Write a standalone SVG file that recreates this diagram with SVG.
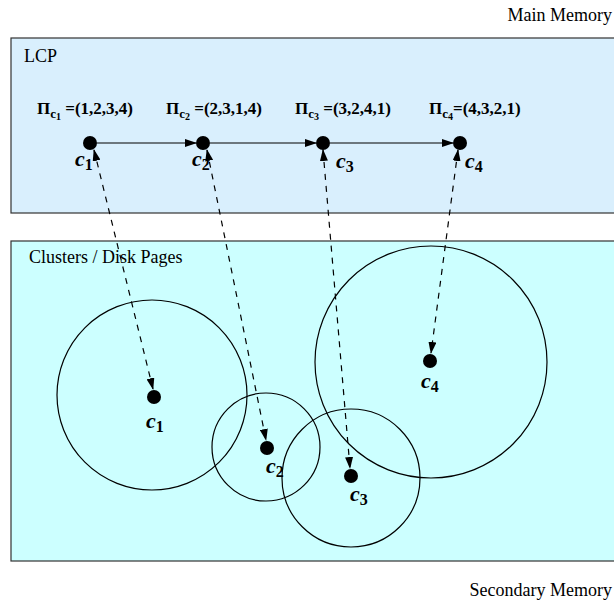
<svg xmlns="http://www.w3.org/2000/svg" width="614" height="604" viewBox="0 0 614 604">
<defs>
<marker id="ah" markerWidth="12" markerHeight="8" refX="11" refY="4" orient="auto" markerUnits="userSpaceOnUse"><path d="M0,0 L12,4 L0,8 Z" fill="#000"/></marker>
<marker id="as" markerWidth="12" markerHeight="8" refX="1" refY="4" orient="auto" markerUnits="userSpaceOnUse"><path d="M12,0 L0,4 L12,8 Z" fill="#000"/></marker>
</defs>
<style>
.t{font-family:"Liberation Serif","Times New Roman",serif;font-size:18px;fill:#000}
.p{font-family:"Liberation Serif","Times New Roman",serif;font-size:17px;font-weight:bold;fill:#000}
.c{font-family:"Liberation Serif","Times New Roman",serif;font-size:22px;font-weight:bold;font-style:italic;fill:#000}
.s{font-size:13px;font-style:normal}
.cs{font-size:16px;font-style:normal;font-weight:bold}
.cl{fill:none;stroke:#000;stroke-width:1.2}
.d{fill:#000}
.h{stroke:#000;stroke-width:1.2;fill:none}
.da{stroke:#000;stroke-width:1.2;fill:none;stroke-dasharray:6,6}
</style>
<rect x="11" y="38" width="610" height="175" fill="#d9effd" stroke="#333" stroke-width="1.2"/>
<rect x="11" y="241" width="610" height="320" fill="#ccffff" stroke="#333" stroke-width="1.2"/>
<text class="t" x="612" y="21" text-anchor="end">Main Memory</text>
<text class="t" x="612" y="596" text-anchor="end">Secondary Memory</text>
<text class="t" x="24" y="62">LCP</text>
<text class="t" x="29" y="263">Clusters / Disk Pages</text>
<g id="circles">
<circle class="cl" cx="152" cy="395" r="95"/>
<circle class="cl" cx="266" cy="447" r="54"/>
<circle class="cl" cx="351" cy="478" r="69"/>
<circle class="cl" cx="431" cy="362" r="116"/>
</g>
<g id="labels">
<text class="p" x="37" y="114">Π<tspan class="s" dy="4">c<tspan font-size="10" dy="2">1</tspan></tspan><tspan dy="-6"> =(1,2,3,4)</tspan></text>
<text class="p" x="166" y="114">Π<tspan class="s" dy="4">c<tspan font-size="10" dy="2">2</tspan></tspan><tspan dy="-6"> =(2,3,1,4)</tspan></text>
<text class="p" x="295" y="114">Π<tspan class="s" dy="4">c<tspan font-size="10" dy="2">3</tspan></tspan><tspan dy="-6"> =(3,2,4,1)</tspan></text>
<text class="p" x="429" y="114">Π<tspan class="s" dy="4">c<tspan font-size="10" dy="2">4</tspan></tspan><tspan dy="-6">=(4,3,2,1)</tspan></text>
</g>
<g id="n-c1-top"><circle class="d" cx="90" cy="143" r="7"/><text class="c" x="75" y="166">c<tspan class="cs" dy="4">1</tspan></text></g>
<g id="n-c2-top"><circle class="d" cx="203" cy="143" r="7"/><text class="c" x="192" y="166">c<tspan class="cs" dy="4">2</tspan></text></g>
<g id="n-c3-top"><circle class="d" cx="323" cy="143" r="7"/><text class="c" x="336" y="168">c<tspan class="cs" dy="4">3</tspan></text></g>
<g id="n-c4-top"><circle class="d" cx="460" cy="143" r="7"/><text class="c" x="465" y="168">c<tspan class="cs" dy="4">4</tspan></text></g>
<g id="n-c1"><circle class="d" cx="154" cy="397" r="7"/><text class="c" x="146" y="428">c<tspan class="cs" dy="4">1</tspan></text></g>
<g id="n-c2"><circle class="d" cx="267" cy="448" r="7"/><text class="c" x="266" y="473">c<tspan class="cs" dy="4">2</tspan></text></g>
<g id="n-c3"><circle class="d" cx="351" cy="476" r="7"/><text class="c" x="350" y="501">c<tspan class="cs" dy="4">3</tspan></text></g>
<g id="n-c4"><circle class="d" cx="430" cy="361" r="7"/><text class="c" x="421" y="388">c<tspan class="cs" dy="4">4</tspan></text></g>
<g id="connectors">
<line class="h" x1="97" y1="143" x2="196" y2="143" marker-end="url(#ah)"/>
<line class="h" x1="210" y1="143" x2="316" y2="143" marker-end="url(#ah)"/>
<line class="h" x1="330" y1="143" x2="453" y2="143" marker-end="url(#ah)"/>
<line class="da" x1="94" y1="150" x2="153" y2="389" marker-start="url(#as)" marker-end="url(#ah)"/>
<line class="da" x1="207" y1="150" x2="266" y2="440" marker-start="url(#as)" marker-end="url(#ah)"/>
<line class="da" x1="323" y1="150" x2="350" y2="468" marker-start="url(#as)" marker-end="url(#ah)"/>
<line class="da" x1="458" y1="150" x2="431" y2="353" marker-start="url(#as)" marker-end="url(#ah)"/>
</g>
</svg>
